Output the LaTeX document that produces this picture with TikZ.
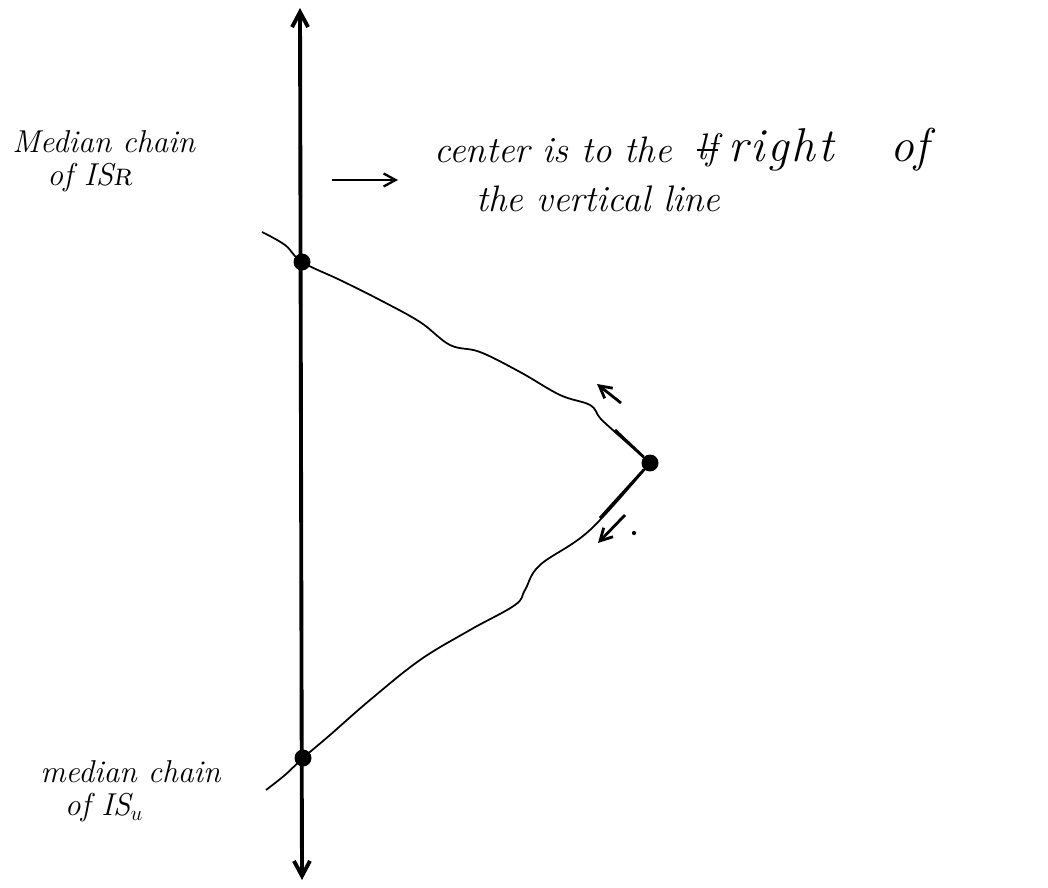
\documentclass[tikz,border=0pt]{standalone}
\usepackage{amsmath,amssymb}
\usepackage{tikz}
\usetikzlibrary{arrows.meta, positioning}

\begin{document}
\begin{tikzpicture}[
  x=0.02cm, y=-0.02cm,
  >={Straight Barb[length=3mm, width=3.2mm]},
  axis/.style={<->, line width=2.2pt},
  curve/.style={line width=1pt, line join=round},
  dot/.style={circle, fill=black, inner sep=0pt, minimum size=3.4mm},
  hint/.style={->, line width=1.6pt, >={Straight Barb[length=2.4mm, width=2.6mm]}},
  note/.style={font=\fontsize{21}{25}\selectfont\itshape, anchor=west, inner sep=0pt},
  side/.style={font=\fontsize{18}{22}\selectfont\itshape, anchor=west, inner sep=0pt},
]
\useasboundingbox (0,0) rectangle (1048,888);

%% ── Axe vertical ──────────────────────────────────────────────────────
\coordinate (axtop) at (300,8);
\coordinate (axbot) at (302,880);
\draw[axis] (axbot) -- (axtop);

%% ── Points ────────────────────────────────────────────────────────────
\node[dot] (topdot) at (302,262) {};
\node[dot] (apex)   at (650,463) {};
\node[dot] (botdot) at (303,758) {};
\coordinate (topend) at (262,232);
\coordinate (botend) at (266,790);

%% ── Chaînes médianes ──────────────────────────────────────────────────
\draw[curve] plot[smooth, tension=0.6] coordinates {
  (topend) (285,245) (topdot) (340,280) (380,300) (420,322) (450,345)
  (480,352) (520,372) (560,395) (590,405) (600,418) (615,432) (apex)};
\draw[curve, line width=1.6pt] (615,430) -- (apex);
\draw[curve] plot[smooth, tension=0.6] coordinates {
  (apex) (590,530) (540,565) (525,590) (515,605) (470,630) (420,660)
  (370,700) (330,735) (botdot) (285,775) (botend)};
\draw[curve, line width=1.6pt] (apex) -- (600,518);

%% ── Petites flèches ───────────────────────────────────────────────────
\coordinate (upA) at (621,403);
\coordinate (upB) at (597,384);
\draw[hint] (upA) -- (upB);
\coordinate (dnA) at (625,515);
\coordinate (dnB) at (598,543);
\draw[hint] (dnA) -- (dnB);
\fill (634,533) circle (1.2pt);

\coordinate (rA) at (332,180);
\coordinate (rB) at (398,180);
\draw[hint, line width=1.3pt] (rA) -- (rB);

%% ── Textes ────────────────────────────────────────────────────────────
\node[side] (isr)  at (12,142) {Median chain};
\node[side, below right=14pt and 20pt of isr.south west, anchor=west] (isr2) {of IS\textsc{r}};

\node[note] (ctr)  at (434,150) {center is to the};
\node[note, right=14pt of ctr] (lf) {lf};
\draw[line width=1.2pt] (lf.west) -- (lf.east);
\node[note, font=\fontsize{27}{32}\selectfont\itshape,
      right=6pt of lf] (rgt) {r\kern1.5pt i\kern1.5pt g\kern1.5pt h\kern1.5pt t\hspace{1.2em}of};
\node[note, below right=20pt and 24pt of ctr.south west, anchor=west] (ctr2) {the vertical line};

\node[side] (isu)  at (40,772) {median chain};
\node[side, below right=14pt and 14pt of isu.south west, anchor=west] (isu2) {of IS$_{\scriptstyle u}$};

\end{tikzpicture}
\end{document}
